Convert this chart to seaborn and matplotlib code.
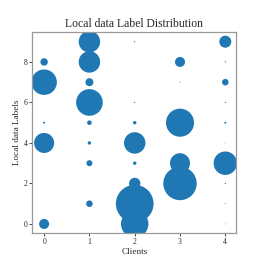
import numpy as np
import pandas as pd
import matplotlib.pyplot as plt
import seaborn as sns

# samples per (client, label)
clients = [0, 0, 0, 0, 0,
           1, 1, 1, 1, 1, 1, 1, 1,
           2, 2, 2, 2, 2, 2, 2, 2,
           3, 3, 3, 3, 3,
           4, 4, 4, 4, 4, 4, 4, 4, 4, 4]
labels = [0, 4, 5, 7, 8,
          1, 3, 4, 5, 6, 7, 8, 9,
          0, 1, 2, 3, 4, 5, 6, 9,
          2, 3, 5, 7, 8,
          0, 1, 2, 3, 4, 5, 6, 7, 8, 9]
counts = [325, 1300, 13, 2100, 178,
          140, 117, 38, 69, 2300, 208, 1490, 1490,
          2440, 4600, 420, 38, 1490, 38, 5, 5,
          3620, 1300, 2550, 3, 325,
          2, 3, 5, 1780, 2, 13, 5, 140, 5, 468]

df = pd.DataFrame({"Clients": clients, "Labels": labels, "Count": counts})

sns.set_style("white")
plt.rcParams['font.family'] = ['Liberation Serif', 'DejaVu Serif']

fig = plt.figure(figsize=(2.63, 2.63), dpi=100)
ax = fig.add_axes([0.123, 0.113, 0.775, 0.767])

ax.scatter(df["Clients"], df["Labels"], s=df["Count"] * 0.16,
           color="#1f77b4", linewidths=0)

ax.set_xlim(-0.26, 4.24)
ax.set_ylim(-0.46, 9.5)
ax.set_xticks([0, 1, 2, 3, 4])
ax.set_yticks([0, 2, 4, 6, 8])
ax.tick_params(labelsize=5.5, length=2, width=0.6, pad=1.5, left=True, bottom=True)
for sp in ax.spines.values():
    sp.set_color("#999999")
    sp.set_linewidth(0.9)

ax.set_title("Local data Label Distribution", fontsize=8.4, pad=3)
ax.set_xlabel("Clients", fontsize=6.6, labelpad=1)
ax.set_ylabel("Local data Labels", fontsize=6.6, labelpad=2)

plt.savefig("out.png", dpi=100)
plt.close()
